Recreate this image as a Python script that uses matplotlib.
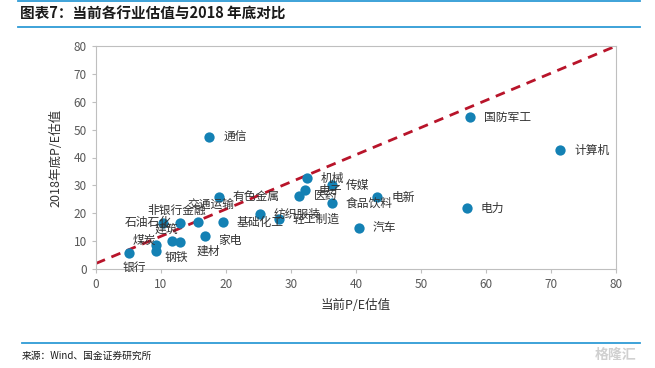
import matplotlib
matplotlib.use("Agg")
import matplotlib.pyplot as plt
from matplotlib.lines import Line2D

plt.rcParams['font.family'] = ['Noto Sans CJK SC', 'DejaVu Sans']

# ---- data ----
industries = ["银行", "煤炭", "钢铁", "建筑", "建材", "家电", "石油石化", "非银行金融",
              "交通运输", "基础化工", "有色金属", "纺织服装", "轻工制造", "机械", "电子",
              "医药", "传媒", "食品饮料", "电新", "汽车", "通信", "国防军工", "计算机", "电力"]
pe_current = [5.1, 9.2, 9.2, 11.7, 12.9, 16.7, 10.3, 12.9,
              15.7, 19.5, 18.9, 25.2, 28.1, 32.4, 32.1,
              31.3, 36.3, 36.3, 43.3, 40.4, 17.4, 57.6, 71.4, 57.0]
pe_2018 = [5.7, 8.6, 6.4, 10.0, 9.7, 11.8, 16.5, 16.5,
           16.8, 16.8, 26.0, 19.7, 17.9, 32.6, 28.3,
           26.2, 30.1, 23.6, 25.8, 14.8, 47.3, 54.5, 42.6, 21.9]
ref_line_x = [0, 80]
ref_line_y = [2, 80]
x_ticks = [0, 10, 20, 30, 40, 50, 60, 70, 80]
y_ticks = [0, 10, 20, 30, 40, 50, 60, 70, 80]

# label placement: (dx to text's left edge, dy downward) in pixels from the point
label_offsets = {
    "银行": (-7, 14), "煤炭": (-23, -5), "钢铁": (9, 6),
    "建筑": (-17, -12), "建材": (17, 9), "家电": (14, 4),
    "石油石化": (-38, -1), "非银行金融": (-32, -13),
    "交通运输": (-11, -17),
}
default_offset = (14, 0)

fig = plt.figure(figsize=(6.55, 3.68), dpi=100)
W, H = 655, 368
ax = fig.add_axes([96 / W, 1 - 269 / H, (616 - 96) / W, (269 - 46) / H])

ax.plot(ref_line_x, ref_line_y, color="#B8142A", lw=2.0, ls=(0, (3.5, 2.5)), zorder=2)
ax.scatter(pe_current, pe_2018, s=55, color="#1481B4", zorder=3, linewidths=0)

for name, xv, yv in zip(industries, pe_current, pe_2018):
    dx, dy = label_offsets.get(name, default_offset)
    ax.annotate(name, (xv, yv), xytext=(dx, -dy), textcoords="offset pixels",
                ha="left", va="center", fontsize=8.5, color="#333333", zorder=4)

ax.set_xlim(0, 80)
ax.set_ylim(0, 80)
ax.set_xticks(x_ticks)
ax.set_yticks(y_ticks)
for s in ax.spines.values():
    s.set_color("#BFBFBF")
    s.set_linewidth(0.8)
ax.tick_params(axis="both", colors="#BFBFBF", labelcolor="#595959", labelsize=8.5,
               length=3, direction="out")
ax.set_xlabel("当前P/E估值", fontsize=9, color="#333333", labelpad=6)
ax.set_ylabel("2018年底P/E估值", fontsize=9, color="#333333", labelpad=8)

# header / footer decorations
fig.add_artist(Line2D([18 / W, 640 / W], [1 - 1 / H, 1 - 1 / H], color="#2E9BD6", lw=1.3))
fig.add_artist(Line2D([18 / W, 640 / W], [1 - 27 / H, 1 - 27 / H], color="#2E9BD6", lw=1.3))
fig.text(20 / W, 1 - 14 / H, "图表7：当前各行业估值与2018 年底对比", fontsize=10.5,
         fontweight="bold", style="italic", color="#1A1A1A", va="center", ha="left")
fig.add_artist(Line2D([22 / W, 640 / W], [1 - 343 / H, 1 - 343 / H], color="#2E9BD6", lw=1.3))
fig.text(22 / W, 1 - 356 / H, "来源：Wind、国金证券研究所", fontsize=7,
         color="#1A1A1A", va="center", ha="left")
fig.text(636 / W, 1 - 355 / H, "格隆汇", fontsize=10, color="#D0D0D0",
         va="center", ha="right", fontweight="bold")

fig.savefig("out.png", dpi=100)
